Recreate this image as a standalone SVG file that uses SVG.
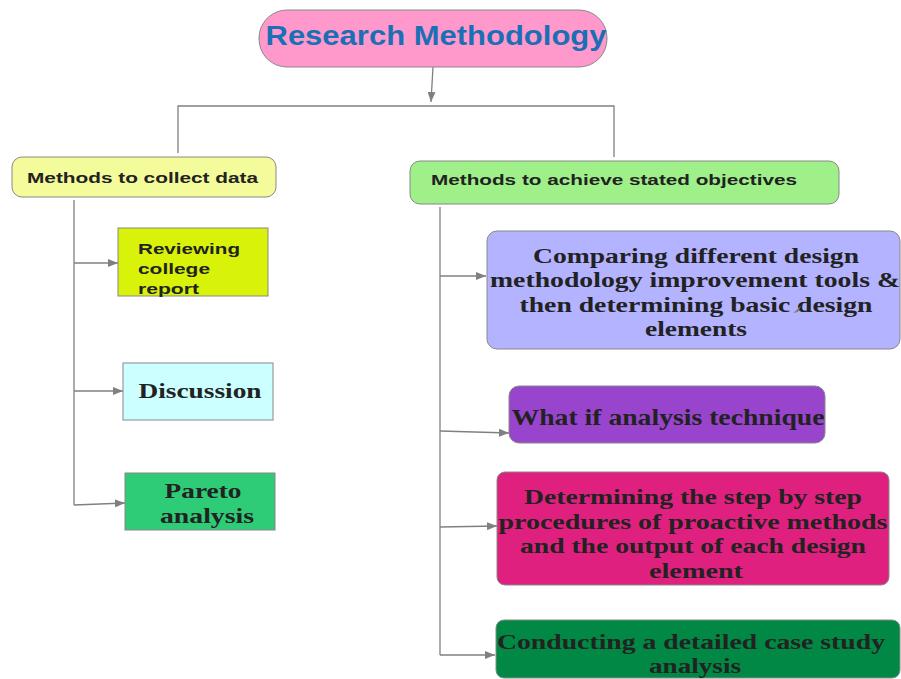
<svg xmlns="http://www.w3.org/2000/svg" width="901" height="679" viewBox="0 0 901 679">
<style>
.box{stroke:#888;stroke-width:1}
.sans{font-family:"Liberation Sans",Arial,sans-serif;font-weight:bold;fill:#222}
.serif{font-family:"Liberation Serif","Times New Roman",serif;font-weight:bold;fill:#222;text-anchor:middle}
.ln{stroke:#808080;stroke-width:1.3;fill:none}
</style>
<defs>
<marker id="ah" markerWidth="10" markerHeight="8" refX="10" refY="4" orient="auto" markerUnits="userSpaceOnUse">
<path d="M0,0 L10,4 L0,8 Z" fill="#808080"/>
</marker>
</defs>
<rect width="901" height="679" fill="#fff"/>
<g id="connectors">
<path class="ln" d="M433,67 L431,102" marker-end="url(#ah)"/>
<path class="ln" d="M178,153 L178,106 L614,106 L614,157"/>
<path class="ln" d="M74,200 L74,505"/>
<path class="ln" d="M74,263 L118,263" marker-end="url(#ah)"/>
<path class="ln" d="M74,391 L123,391" marker-end="url(#ah)"/>
<path class="ln" d="M74,505 L125,503" marker-end="url(#ah)"/>
<path class="ln" d="M440,207 L440,655"/>
<path class="ln" d="M440,276 L486,276" marker-end="url(#ah)"/>
<path class="ln" d="M440,431 L509,433" marker-end="url(#ah)"/>
<path class="ln" d="M440,527 L497,526" marker-end="url(#ah)"/>
<path class="ln" d="M440,655 L495,655" marker-end="url(#ah)"/>
</g>
<g id="title">
<rect class="box" x="259" y="10" width="348" height="57" rx="28" fill="#ff99cc"/>
<text x="436" y="45" font-family="Liberation Sans,Arial,sans-serif" font-weight="bold" font-size="27" fill="#1a6fb5" text-anchor="middle" textLength="341" lengthAdjust="spacingAndGlyphs">Research Methodology</text>
</g>
<g id="collect">
<rect class="box" x="12" y="157" width="264" height="40" rx="10" fill="#f4fb9a"/>
<text class="sans" x="27" y="183" font-size="15" textLength="231" lengthAdjust="spacingAndGlyphs">Methods to collect data</text>
</g>
<g id="achieve">
<rect class="box" x="410" y="161" width="429" height="43" rx="10" fill="#a0f08a"/>
<text class="sans" x="431" y="185" font-size="15" textLength="366" lengthAdjust="spacingAndGlyphs">Methods to achieve stated objectives</text>
</g>
<g id="reviewing">
<rect class="box" x="118" y="228" width="150" height="68" fill="#d8f20a"/>
<text class="sans" x="138" y="254" font-size="15" textLength="102" lengthAdjust="spacingAndGlyphs">Reviewing</text>
<text class="sans" x="138" y="274" font-size="15" textLength="72" lengthAdjust="spacingAndGlyphs">college</text>
<text class="sans" x="138" y="294" font-size="15" textLength="61" lengthAdjust="spacingAndGlyphs">report</text>
</g>
<g id="discussion">
<rect class="box" x="123" y="363" width="150" height="57" fill="#ccffff"/>
<text class="serif" x="200" y="398" font-size="21" textLength="123" lengthAdjust="spacingAndGlyphs">Discussion</text>
</g>
<g id="pareto">
<rect class="box" x="125" y="473" width="150" height="57" fill="#2ecc77"/>
<text class="serif" x="203" y="498" font-size="21" textLength="77" lengthAdjust="spacingAndGlyphs">Pareto</text>
<text class="serif" x="207" y="523" font-size="21" textLength="94" lengthAdjust="spacingAndGlyphs">analysis</text>
</g>
<g id="comparing">
<rect class="box" x="487" y="231" width="413" height="118" rx="10" fill="#b3b3ff"/>
<text class="serif" x="696" y="263" font-size="21" textLength="326" lengthAdjust="spacingAndGlyphs">Comparing different design</text>
<text class="serif" x="695" y="287" font-size="21" textLength="410" lengthAdjust="spacingAndGlyphs">methodology improvement tools &amp;</text>
<text class="serif" x="696" y="312" font-size="21" textLength="353" lengthAdjust="spacingAndGlyphs">then determining basic design</text>
<text class="serif" x="696" y="336" font-size="21" textLength="102" lengthAdjust="spacingAndGlyphs">elements</text>
<path d="M793,313 L801,306 L798,312 Z" fill="#808080"/>
</g>
<g id="whatif">
<rect class="box" x="509" y="386" width="316" height="57" rx="10" fill="#9944cc"/>
<text class="serif" x="668" y="425" font-size="23" textLength="313" lengthAdjust="spacingAndGlyphs">What if analysis technique</text>
</g>
<g id="determining">
<rect class="box" x="497" y="472" width="392" height="113" rx="8" fill="#e0207f"/>
<text class="serif" x="693" y="504" font-size="21" textLength="338" lengthAdjust="spacingAndGlyphs">Determining the step by step</text>
<text class="serif" x="693" y="529" font-size="21" textLength="389" lengthAdjust="spacingAndGlyphs">procedures of proactive methods</text>
<text class="serif" x="693" y="553" font-size="21" textLength="346" lengthAdjust="spacingAndGlyphs">and the output of each design</text>
<text class="serif" x="696" y="578" font-size="21" textLength="94" lengthAdjust="spacingAndGlyphs">element</text>
</g>
<g id="conducting">
<rect class="box" x="496" y="620" width="404" height="58" rx="8" fill="#008844"/>
<text class="serif" x="691" y="649" font-size="22" textLength="388" lengthAdjust="spacingAndGlyphs">Conducting a detailed case study</text>
<text class="serif" x="695" y="673" font-size="22" textLength="92" lengthAdjust="spacingAndGlyphs">analysis</text>
</g>
</svg>
